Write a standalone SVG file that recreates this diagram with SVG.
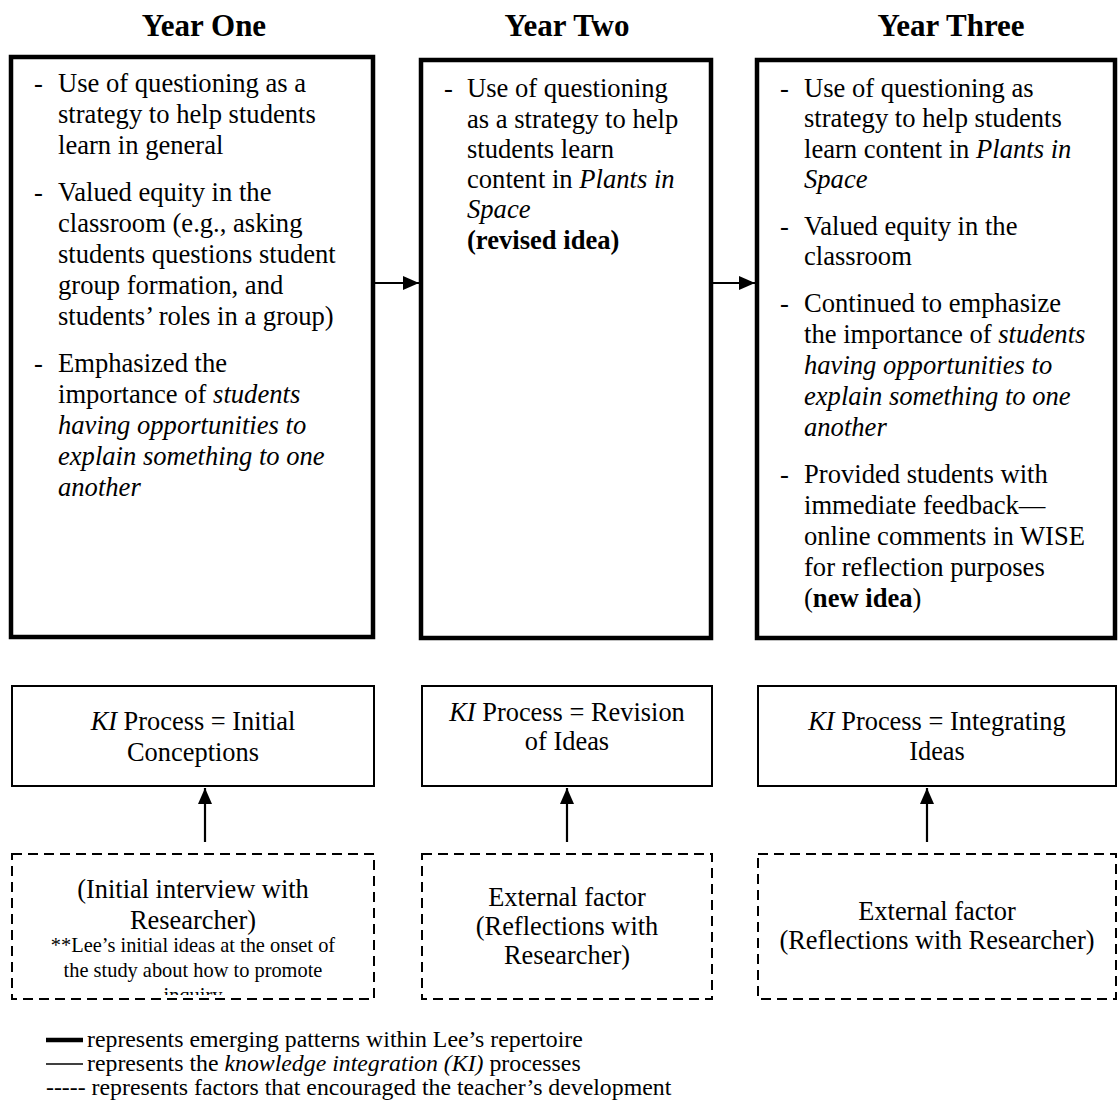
<svg xmlns="http://www.w3.org/2000/svg" width="1118" height="1117" viewBox="0 0 1118 1117" font-family="'Liberation Serif', 'Times New Roman', Times, serif">
  <style>
    text { font-family: 'Liberation Serif', 'Times New Roman', Times, serif; fill: #000; }
    .head { font-size: 31px; font-weight: bold; text-anchor: middle; }
    .body { font-size: 26.6px; }
    .mid { font-size: 26.4px; text-anchor: middle; }
    .small { font-size: 20.4px; text-anchor: middle; }
    .legend { font-size: 23.8px; }
    .thick { fill: #fff; stroke: #000; stroke-width: 4.5; }
    .thin { fill: #fff; stroke: #000; stroke-width: 2; }
    .dash { fill: #fff; stroke: #000; stroke-width: 2; stroke-dasharray: 10 6; }
    .conn { stroke: #000; stroke-width: 2.2; fill: none; }
  </style>
  <defs>
    <marker id="arrow" markerWidth="16" markerHeight="14" refX="16" refY="7" orient="auto" markerUnits="userSpaceOnUse">
      <path d="M0,0 L16,7 L0,14 Z" fill="#000"/>
    </marker>
    <clipPath id="clip-factor1">
      <rect x="14" y="855" width="360" height="140"/>
    </clipPath>
  </defs>

  <rect width="1118" height="1117" fill="#fff"/>

  <!-- Column headings -->
  <text class="head" x="204" y="36">Year One</text>
  <text class="head" x="567" y="36">Year Two</text>
  <text class="head" x="951" y="36">Year Three</text>

  <!-- Repertoire boxes -->
  <g id="year-one">
    <rect class="thick" x="11" y="57" width="362" height="580"/>
    <text class="body">
      <tspan x="34" y="92">-</tspan><tspan x="58" y="92">Use of questioning as a</tspan>
      <tspan x="58" y="123">strategy to help students</tspan>
      <tspan x="58" y="154">learn in general</tspan>
      <tspan x="34" y="201">-</tspan><tspan x="58" y="201">Valued equity in the</tspan>
      <tspan x="58" y="232">classroom (e.g., asking</tspan>
      <tspan x="58" y="263">students questions student</tspan>
      <tspan x="58" y="294">group formation, and</tspan>
      <tspan x="58" y="325">students’ roles in a group)</tspan>
      <tspan x="34" y="372">-</tspan><tspan x="58" y="372">Emphasized the</tspan>
      <tspan x="58" y="403">importance of <tspan font-style="italic">students</tspan></tspan>
      <tspan x="58" y="434" font-style="italic">having opportunities to</tspan>
      <tspan x="58" y="465" font-style="italic">explain something to one</tspan>
      <tspan x="58" y="496" font-style="italic">another</tspan>
    </text>
  </g>

  <g id="year-two">
    <rect class="thick" x="421" y="60" width="290" height="578"/>
    <text class="body">
      <tspan x="444" y="97">-</tspan><tspan x="467" y="97">Use of questioning</tspan>
      <tspan x="467" y="128">as a strategy to help</tspan>
      <tspan x="467" y="158">students learn</tspan>
      <tspan x="467" y="188">content in <tspan font-style="italic">Plants in</tspan></tspan>
      <tspan x="467" y="218" font-style="italic">Space</tspan>
      <tspan x="467" y="249" font-weight="bold">(revised idea)</tspan>
    </text>
  </g>

  <g id="year-three">
    <rect class="thick" x="757" y="60" width="358" height="578"/>
    <text class="body">
      <tspan x="780" y="97">-</tspan><tspan x="804" y="97">Use of questioning as</tspan>
      <tspan x="804" y="127">strategy to help students</tspan>
      <tspan x="804" y="158">learn content in <tspan font-style="italic">Plants in</tspan></tspan>
      <tspan x="804" y="188" font-style="italic">Space</tspan>
      <tspan x="780" y="235">-</tspan><tspan x="804" y="235">Valued equity in the</tspan>
      <tspan x="804" y="265">classroom</tspan>
      <tspan x="780" y="312">-</tspan><tspan x="804" y="312">Continued to emphasize</tspan>
      <tspan x="804" y="343">the importance of <tspan font-style="italic">students</tspan></tspan>
      <tspan x="804" y="374" font-style="italic">having opportunities  to</tspan>
      <tspan x="804" y="405" font-style="italic">explain something to one</tspan>
      <tspan x="804" y="436" font-style="italic">another</tspan>
      <tspan x="780" y="483">-</tspan><tspan x="804" y="483">Provided students with</tspan>
      <tspan x="804" y="514">immediate feedback—</tspan>
      <tspan x="804" y="545">online comments in WISE</tspan>
      <tspan x="804" y="576">for reflection purposes</tspan>
      <tspan x="804" y="607">(<tspan font-weight="bold">new idea</tspan>)</tspan>
    </text>
  </g>

  <!-- KI process boxes -->
  <g id="ki-initial">
    <rect class="thin" x="12" y="686" width="362" height="100"/>
    <text class="mid"><tspan x="193" y="730"><tspan font-style="italic">KI</tspan> Process = Initial</tspan><tspan x="193" y="761">Conceptions</tspan></text>
  </g>
  <g id="ki-revision">
    <rect class="thin" x="422" y="686" width="290" height="100"/>
    <text class="mid"><tspan x="567" y="721"><tspan font-style="italic">KI</tspan> Process = Revision</tspan><tspan x="567" y="750">of Ideas</tspan></text>
  </g>
  <g id="ki-integrating">
    <rect class="thin" x="758" y="686" width="358" height="100"/>
    <text class="mid"><tspan x="937" y="730"><tspan font-style="italic">KI</tspan> Process = Integrating</tspan><tspan x="937" y="760">Ideas</tspan></text>
  </g>

  <!-- External factor boxes -->
  <g id="factor-initial">
    <rect class="dash" x="12" y="854" width="362" height="145"/>
    <text class="mid"><tspan x="193" y="898">(Initial interview with</tspan><tspan x="193" y="929">Researcher)</tspan></text>
    <g clip-path="url(#clip-factor1)">
      <text class="small"><tspan x="193" y="952">**Lee’s initial ideas at the onset of</tspan><tspan x="193" y="977">the study about how to promote</tspan><tspan x="193" y="1002">inquiry</tspan></text>
    </g>
  </g>
  <g id="factor-revision">
    <rect class="dash" x="422" y="854" width="290" height="145"/>
    <text class="mid"><tspan x="567" y="906">External factor</tspan><tspan x="567" y="935">(Reflections with</tspan><tspan x="567" y="964">Researcher)</tspan></text>
  </g>
  <g id="factor-integrating">
    <rect class="dash" x="758" y="854" width="358" height="145"/>
    <text class="mid"><tspan x="937" y="920">External factor</tspan><tspan x="937" y="949">(Reflections with Researcher)</tspan></text>
  </g>

  <!-- Connectors -->
  <g id="connectors">
    <line class="conn" x1="375" y1="283" x2="419" y2="283" marker-end="url(#arrow)"/>
    <line class="conn" x1="713" y1="283" x2="755" y2="283" marker-end="url(#arrow)"/>
    <line class="conn" x1="205" y1="842" x2="205" y2="788" marker-end="url(#arrow)"/>
    <line class="conn" x1="567" y1="842" x2="567" y2="788" marker-end="url(#arrow)"/>
    <line class="conn" x1="927" y1="842" x2="927" y2="788" marker-end="url(#arrow)"/>
  </g>

  <!-- Legend -->
  <g id="legend">
    <line x1="46" y1="1040" x2="83" y2="1040" stroke="#000" stroke-width="4.5"/>
    <text class="legend" x="87" y="1047">represents emerging patterns within Lee’s repertoire</text>
    <line x1="46" y1="1064" x2="83" y2="1064" stroke="#000" stroke-width="1.5"/>
    <text class="legend" x="87" y="1071">represents the <tspan font-style="italic">knowledge integration (KI)</tspan> processes</text>
    <text class="legend" x="46" y="1095">----- represents factors that encouraged the teacher’s development</text>
  </g>
</svg>
